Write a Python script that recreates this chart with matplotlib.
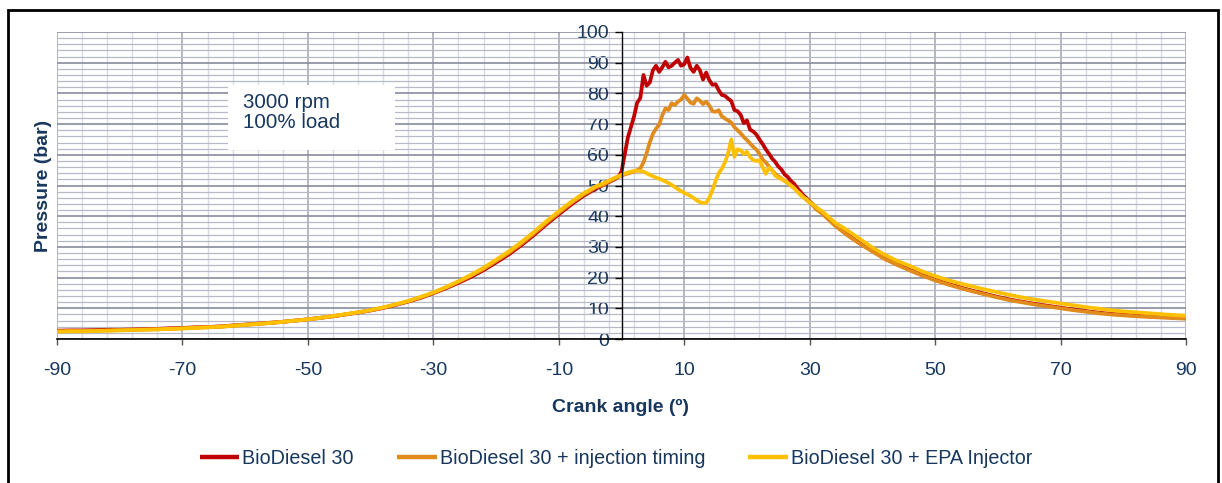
import numpy as np
import matplotlib
matplotlib.use("Agg")
import matplotlib.pyplot as plt
from matplotlib.ticker import MultipleLocator
from matplotlib.patches import Rectangle

plt.rcParams['font.family'] = ['Liberation Sans', 'DejaVu Sans']

# Crank angle grid (degrees): coarse before TDC, fine through combustion, coarse in expansion
angle = np.concatenate([np.arange(-90, -3, 2),
                        np.arange(-3, 32.01, 0.5),
                        np.arange(34, 91, 2)])

# Cylinder pressure (bar)
bd30 = [
    2.7, 2.8, 2.8, 2.9, 3.0, 3.0, 3.1, 3.2, 3.3, 3.5, 3.6, 3.8, 3.9, 4.1, 4.4, 4.7,
    5.0, 5.3, 5.6, 6.0, 6.4, 6.9, 7.4, 8.0, 8.6, 9.3, 10.1, 11.1, 12.2, 13.4, 14.9,
    16.5, 18.3, 20.2, 22.4, 24.9, 27.5, 30.5, 33.8, 37.3, 40.6, 43.8, 46.7, 49.1,
    # -3 .. 32 every 0.5
    50.0, 50.6, 51.1, 51.6, 52.1, 52.8, 54.5, 60.0, 65.5, 69.0, 72.5, 77.0, 78.5,
    86.0, 82.5, 83.5, 87.5, 89.0, 87.0, 88.5, 90.3, 88.5, 89.0, 90.0, 90.9, 89.0,
    89.5, 91.7, 88.3, 87.0, 89.0, 87.5, 84.5, 86.8, 84.3, 82.8, 83.0, 81.0, 79.5,
    79.2, 78.3, 77.5, 74.6, 74.2, 73.0, 70.3, 71.2, 68.2, 67.6, 66.6, 65.0, 63.5,
    61.8, 60.4, 58.8, 57.7, 56.2, 55.2, 53.6, 52.8, 51.5, 50.6, 49.2, 48.0, 46.8,
    45.9, 44.8, 43.8, 42.8, 42.0, 41.2,
    # 34 .. 90
    37.2, 34.0, 31.2, 28.7, 26.2, 24.3, 22.5, 20.8, 19.3, 18.0, 16.8, 15.7, 14.7,
    13.7, 12.8, 12.1, 11.4, 10.8, 10.2, 9.6, 9.1, 8.6, 8.2, 7.9, 7.6, 7.4, 7.2,
    7.0, 6.8,
]

bd30_timing = [
    2.5, 2.6, 2.6, 2.7, 2.8, 2.9, 3.0, 3.1, 3.2, 3.3, 3.5, 3.7, 3.8, 4.0, 4.3, 4.6,
    4.9, 5.2, 5.6, 6.0, 6.4, 6.9, 7.4, 8.0, 8.7, 9.4, 10.2, 11.2, 12.3, 13.6, 15.0,
    16.7, 18.6, 20.6, 22.8, 25.4, 28.0, 31.0, 34.3, 37.8, 41.1, 44.3, 47.1, 49.5,
    # -3 .. 32 every 0.5
    50.1, 50.7, 51.3, 51.8, 52.3, 52.8, 53.2, 53.6, 53.9, 54.2, 54.5, 55.0, 55.6,
    57.5, 60.5, 64.0, 66.8, 68.5, 69.8, 72.8, 75.1, 74.6, 76.8, 76.2, 77.3, 78.0,
    79.5, 78.3, 77.0, 76.6, 78.4, 77.6, 76.5, 77.3, 76.0, 74.2, 74.0, 74.5, 72.5,
    71.8, 71.2, 70.5, 69.0, 68.0, 67.0, 65.8, 64.8, 63.7, 62.6, 61.7, 60.3, 58.5,
    57.5, 56.2, 55.0, 53.8, 53.0, 52.3, 51.5, 50.9, 50.0, 49.2, 48.2, 47.3, 46.3,
    45.3, 44.5, 43.5, 42.3, 41.6, 40.8,
    # 34 .. 90
    37.0, 33.8, 31.0, 28.5, 26.0, 24.1, 22.3, 20.6, 19.1, 17.8, 16.6, 15.5, 14.5,
    13.5, 12.6, 11.9, 11.2, 10.6, 10.0, 9.4, 8.9, 8.4, 8.0, 7.7, 7.4, 7.2, 7.0,
    6.8, 6.6,
]

bd30_epa = [
    2.4, 2.5, 2.5, 2.6, 2.7, 2.8, 2.9, 3.0, 3.1, 3.3, 3.4, 3.6, 3.8, 4.0, 4.3, 4.6,
    4.9, 5.2, 5.6, 6.0, 6.4, 6.9, 7.5, 8.1, 8.7, 9.4, 10.3, 11.3, 12.4, 13.7, 15.2,
    16.9, 18.8, 20.9, 23.2, 25.8, 28.5, 31.5, 34.8, 38.3, 41.6, 44.7, 47.5, 49.8,
    # -3 .. 32 every 0.5
    50.6, 51.1, 51.6, 52.1, 52.6, 53.0, 53.5, 53.9, 54.2, 54.5, 54.7, 54.8, 54.7,
    54.5, 54.0, 53.5, 53.0, 52.6, 52.2, 51.8, 51.3, 50.8, 50.2, 49.5, 48.8, 48.2,
    47.6, 47.1, 46.6, 45.9, 45.2, 44.6, 44.3, 44.4, 46.0, 48.5, 51.5, 54.0, 55.5,
    57.5, 60.5, 65.0, 59.3, 61.8, 61.5, 60.3, 61.0, 59.2, 58.3, 58.0, 58.2, 56.0,
    53.8, 55.8, 55.0, 53.2, 52.6, 52.1, 51.6, 50.8, 50.0, 49.2, 48.0, 47.0, 46.0,
    45.6, 44.5, 43.8, 43.0, 42.3, 41.6,
    # 34 .. 90
    38.0, 35.4, 32.6, 29.8, 27.4, 25.4, 23.8, 22.0, 20.5, 19.2, 18.1, 17.1, 16.1,
    15.2, 14.3, 13.5, 12.8, 12.2, 11.6, 11.0, 10.4, 9.9, 9.4, 9.0, 8.7, 8.4, 8.1,
    7.8, 7.6,
]

series_labels = ["BioDiesel 30", "BioDiesel 30 + injection timing",
                 "BioDiesel 30 + EPA Injector"]
series_colors = ["#C00000", "#E08B1C", "#FFC000"]
x_ticks = [-90, -70, -50, -30, -10, 10, 30, 50, 70, 90]

text_color = "#17375E"

W, H = 1222, 483
fig = plt.figure(figsize=(W / 100, H / 100), dpi=100)
ax = fig.add_axes([57 / W, 1 - 339 / H, (1186 - 57) / W, (339 - 32) / H])

for y, lab, col in zip([bd30, bd30_timing, bd30_epa], series_labels, series_colors):
    assert len(y) == len(angle)
    ax.plot(angle, y, color=col, lw=2.7, label=lab, zorder=4,
            solid_joinstyle='round', solid_capstyle='butt')

ax.set_xlim(-90, 90)
ax.set_ylim(0, 100)

ax.xaxis.set_major_locator(MultipleLocator(20, offset=10))
ax.xaxis.set_minor_locator(MultipleLocator(4, offset=2))
ax.yaxis.set_major_locator(MultipleLocator(10))
ax.yaxis.set_minor_locator(MultipleLocator(2))

ax.grid(which='minor', axis='x', color='#D9DBE2', lw=1.0, zorder=0)
ax.grid(which='major', axis='x', color='#A0A3B1', lw=1.1, zorder=0)
ax.grid(which='minor', axis='y', color='#B7BAC6', lw=0.9, zorder=0)
ax.grid(which='major', axis='y', color='#878B9C', lw=1.2, zorder=0)
ax.set_axisbelow(True)

for s in ['top', 'right']:
    ax.spines[s].set_visible(False)
ax.spines['left'].set_position(('data', 0))
ax.spines['left'].set_color('black')
ax.spines['bottom'].set_color('black')
ax.spines['left'].set_linewidth(1.0)
ax.spines['bottom'].set_linewidth(1.2)
ax.spines['left'].set_zorder(5)

ax.set_xticks(x_ticks)
ax.set_xticklabels([str(v) for v in x_ticks])
ax.tick_params(axis='x', which='major', direction='out', length=4.5, width=1.0,
               color='#555555', pad=12, labelsize=14, labelcolor=text_color)
ax.tick_params(axis='y', which='major', direction='out', length=5, width=1.0,
               color='black', pad=4, labelsize=14, labelcolor=text_color)
ax.tick_params(which='minor', length=0)

ax.set_xlabel("Crank angle (º)", fontsize=14, fontweight='bold', color=text_color)
ax.xaxis.set_label_coords((620 - 57) / 1129, (339 - 407) / 307)
ax.set_ylabel("Pressure (bar)", fontsize=14, fontweight='bold', color=text_color)
ax.yaxis.set_label_coords((44 - 57) / 1129, 0.5)
ax.yaxis.label.set_va('center')
ax.xaxis.label.set_va('center')

# Operating-point annotation box
box = Rectangle((228 / W, 1 - 150 / H), (395 - 228) / W, (150 - 85) / H,
                transform=fig.transFigure, facecolor='white', edgecolor='none',
                zorder=3)
fig.add_artist(box)
fig.text(243 / W, 1 - 93 / H, "3000 rpm\n100% load", fontsize=14.8,
         color=text_color, ha='left', va='top', linespacing=1.05, zorder=4)

leg = fig.legend(loc='center', bbox_to_anchor=(616 / W, 1 - 458 / H), ncol=3,
                 frameon=False, fontsize=14.2, handlelength=2.0,
                 handletextpad=0.15, columnspacing=2.2)
for t in leg.get_texts():
    t.set_color(text_color)
for h in leg.get_lines():
    h.set_linewidth(3.2)

# Outer chart frame
frame = Rectangle((8 / W, -0.05), (1218 - 8) / W, 1.05 - 10 / H,
                  transform=fig.transFigure, facecolor='none', edgecolor='black',
                  lw=2.0, zorder=10)
fig.add_artist(frame)

fig.savefig("out.png", dpi=100)
